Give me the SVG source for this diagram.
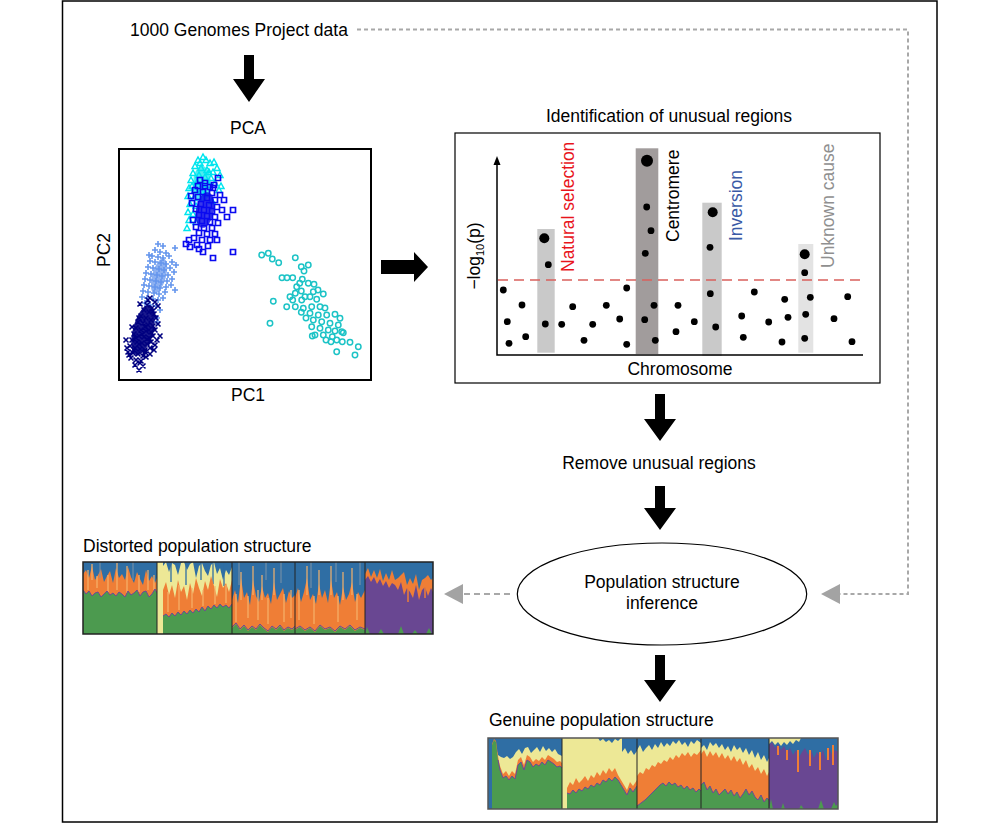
<svg xmlns="http://www.w3.org/2000/svg" width="1000" height="824" viewBox="0 0 1000 824">
<defs>
<style>
text{font-family:"Liberation Sans",Arial,sans-serif;font-size:17.5px;fill:#000}
.frame{fill:none;stroke:#000}
.dash{fill:none;stroke:#a8a8a8;stroke-width:2}
.gh{fill:#a3a3a3}
.blk{fill:#000}
.dot{fill:#000}
.B{fill:#2f6ea4}.O{fill:#ef7e36}.Y{fill:#ede896}.G{fill:#4c9a4f}.P{fill:#694792}
.pe{stroke:#f5b36c;stroke-width:1.2}
.gb{stroke:#7e93a6;stroke-width:1}
.bl{stroke:#2f6ea4;stroke-width:1.3}
.pl{fill:none;stroke:#6d4a94;stroke-width:1}
</style>
<clipPath id="cd"><rect x="83" y="562" width="350" height="72"/></clipPath>
<clipPath id="cg"><rect x="488" y="738" width="350" height="71"/></clipPath>
</defs>
<rect x="0" y="0" width="1000" height="824" fill="#fff"/>
<rect x="62.5" y="1" width="874.5" height="821" fill="none" stroke="#000" stroke-width="1.5"/>

<g id="connectors">
<polyline class="dash" stroke-dasharray="4 3" points="357,29.5 908,29.5 908,594 840,594"/>
<polygon class="gh" points="821,594 840,584 840,604"/>
<line class="dash" stroke-dasharray="6 4" x1="510" y1="594" x2="463" y2="594"/>
<polygon class="gh" points="444,594 463,584 463,604"/>
<polygon class="blk" points="244,55 254,55 254,79 265,79 249,102 233,79 244,79"/>
<polygon class="blk" points="381,260 414,260 414,252 428,267 414,282 414,274 381,274"/>
<polygon class="blk" points="655,394 665,394 665,419 676,419 660,441 644,419 655,419"/>
<polygon class="blk" points="655,486 665,486 665,508 676,508 660,530 644,508 655,508"/>
<polygon class="blk" points="655,655 665,655 665,680 676,680 660,702 644,680 655,680"/>
</g>

<g id="source">
<text x="130" y="36">1000 Genomes Project data</text>
</g>

<g id="pca">
<text x="248" y="134" text-anchor="middle">PCA</text>
<rect class="frame" x="119" y="149" width="252" height="231" stroke-width="2"/>
<text x="248" y="401" text-anchor="middle">PC1</text>
<text transform="translate(110,250) rotate(-90)" text-anchor="middle">PC2</text>
<ellipse cx="159" cy="276" rx="7" ry="18" transform="rotate(15 159 276)" fill="#6f9cee" opacity="0.8"/>
<path fill="none" stroke="#6495ed" stroke-width="1.6" d="M158,244m-3,0h6m-3-3v6M163,246m-3,0h6m-3-3v6M175,248m-3,0h6m-3-3v6M155,250m-3,0h6m-3-3v6M160,252m-3,0h6m-3-3v6M166,253m-3,0h6m-3-3v6M152,256m-3,0h6m-3-3v6M158,257m-3,0h6m-3-3v6M163,258m-3,0h6m-3-3v6M169,256m-3,0h6m-3-3v6M150,261m-3,0h6m-3-3v6M155,262m-3,0h6m-3-3v6M161,263m-3,0h6m-3-3v6M166,264m-3,0h6m-3-3v6M172,262m-3,0h6m-3-3v6M148,267m-3,0h6m-3-3v6M153,268m-3,0h6m-3-3v6M159,269m-3,0h6m-3-3v6M164,270m-3,0h6m-3-3v6M170,268m-3,0h6m-3-3v6M146,273m-3,0h6m-3-3v6M151,274m-3,0h6m-3-3v6M157,275m-3,0h6m-3-3v6M162,276m-3,0h6m-3-3v6M168,275m-3,0h6m-3-3v6M174,272m-3,0h6m-3-3v6M145,279m-3,0h6m-3-3v6M150,280m-3,0h6m-3-3v6M156,281m-3,0h6m-3-3v6M161,282m-3,0h6m-3-3v6M167,281m-3,0h6m-3-3v6M172,279m-3,0h6m-3-3v6M144,285m-3,0h6m-3-3v6M149,286m-3,0h6m-3-3v6M155,287m-3,0h6m-3-3v6M160,288m-3,0h6m-3-3v6M166,287m-3,0h6m-3-3v6M143,291m-3,0h6m-3-3v6M148,292m-3,0h6m-3-3v6M154,293m-3,0h6m-3-3v6M159,294m-3,0h6m-3-3v6M165,292m-3,0h6m-3-3v6M142,297m-3,0h6m-3-3v6M147,298m-3,0h6m-3-3v6M153,299m-3,0h6m-3-3v6M158,300m-3,0h6m-3-3v6M150,305m-3,0h6m-3-3v6M156,306m-3,0h6m-3-3v6M145,303m-3,0h6m-3-3v6M152,312m-3,0h6m-3-3v6M157,318m-3,0h6m-3-3v6M160,310m-3,0h6m-3-3v6M176,265m-3,0h6m-3-3v6M175,290m-3,0h6m-3-3v6M149,255m-3,0h6m-3-3v6M171,285m-3,0h6m-3-3v6M163,298m-3,0h6m-3-3v6M157,322m-3,0h6m-3-3v6"/>
<ellipse cx="143" cy="330" rx="10" ry="26" transform="rotate(15 143 330)" fill="#000080" opacity="0.9"/>
<path fill="none" stroke="#000080" stroke-width="1.6" d="M150,298m-2.5-2.5l5,5m0-5l-5,5M155,302m-2.5-2.5l5,5m0-5l-5,5M147,305m-2.5-2.5l5,5m0-5l-5,5M152,308m-2.5-2.5l5,5m0-5l-5,5M158,306m-2.5-2.5l5,5m0-5l-5,5M144,310m-2.5-2.5l5,5m0-5l-5,5M149,312m-2.5-2.5l5,5m0-5l-5,5M154,314m-2.5-2.5l5,5m0-5l-5,5M141,316m-2.5-2.5l5,5m0-5l-5,5M146,318m-2.5-2.5l5,5m0-5l-5,5M151,320m-2.5-2.5l5,5m0-5l-5,5M156,318m-2.5-2.5l5,5m0-5l-5,5M138,322m-2.5-2.5l5,5m0-5l-5,5M143,323m-2.5-2.5l5,5m0-5l-5,5M148,325m-2.5-2.5l5,5m0-5l-5,5M153,326m-2.5-2.5l5,5m0-5l-5,5M136,328m-2.5-2.5l5,5m0-5l-5,5M141,330m-2.5-2.5l5,5m0-5l-5,5M146,331m-2.5-2.5l5,5m0-5l-5,5M151,332m-2.5-2.5l5,5m0-5l-5,5M155,330m-2.5-2.5l5,5m0-5l-5,5M134,334m-2.5-2.5l5,5m0-5l-5,5M139,336m-2.5-2.5l5,5m0-5l-5,5M144,337m-2.5-2.5l5,5m0-5l-5,5M149,338m-2.5-2.5l5,5m0-5l-5,5M153,336m-2.5-2.5l5,5m0-5l-5,5M132,340m-2.5-2.5l5,5m0-5l-5,5M137,342m-2.5-2.5l5,5m0-5l-5,5M142,343m-2.5-2.5l5,5m0-5l-5,5M147,344m-2.5-2.5l5,5m0-5l-5,5M151,342m-2.5-2.5l5,5m0-5l-5,5M130,346m-2.5-2.5l5,5m0-5l-5,5M135,348m-2.5-2.5l5,5m0-5l-5,5M140,349m-2.5-2.5l5,5m0-5l-5,5M145,350m-2.5-2.5l5,5m0-5l-5,5M150,348m-2.5-2.5l5,5m0-5l-5,5M155,345m-2.5-2.5l5,5m0-5l-5,5M128,352m-2.5-2.5l5,5m0-5l-5,5M133,353m-2.5-2.5l5,5m0-5l-5,5M138,354m-2.5-2.5l5,5m0-5l-5,5M143,356m-2.5-2.5l5,5m0-5l-5,5M131,358m-2.5-2.5l5,5m0-5l-5,5M136,360m-2.5-2.5l5,5m0-5l-5,5M141,361m-2.5-2.5l5,5m0-5l-5,5M135,365m-2.5-2.5l5,5m0-5l-5,5M140,363m-2.5-2.5l5,5m0-5l-5,5M139,370m-2.5-2.5l5,5m0-5l-5,5M145,352m-2.5-2.5l5,5m0-5l-5,5M157,340m-2.5-2.5l5,5m0-5l-5,5M160,336m-2.5-2.5l5,5m0-5l-5,5M127,348m-2.5-2.5l5,5m0-5l-5,5M146,357m-2.5-2.5l5,5m0-5l-5,5M132,327m-2.5-2.5l5,5m0-5l-5,5M139,318m-2.5-2.5l5,5m0-5l-5,5M150,354m-2.5-2.5l5,5m0-5l-5,5M154,350m-2.5-2.5l5,5m0-5l-5,5M126,340m-2.5-2.5l5,5m0-5l-5,5M143,366m-2.5-2.5l5,5m0-5l-5,5M140,304m-2.5-2.5l5,5m0-5l-5,5M158,324m-2.5-2.5l5,5m0-5l-5,5M148,300m-2.5-2.5l5,5m0-5l-5,5M153,311m-2.5-2.5l5,5m0-5l-5,5M145,327m-2.5-2.5l5,5m0-5l-5,5M139,344m-2.5-2.5l5,5m0-5l-5,5M134,350m-2.5-2.5l5,5m0-5l-5,5M147,339m-2.5-2.5l5,5m0-5l-5,5M142,334m-2.5-2.5l5,5m0-5l-5,5M136,338m-2.5-2.5l5,5m0-5l-5,5M129,355m-2.5-2.5l5,5m0-5l-5,5M149,330m-2.5-2.5l5,5m0-5l-5,5"/>
<ellipse cx="202" cy="184" rx="9" ry="18" fill="#22e6ee" opacity="0.8"/>
<path fill="none" stroke="#00e5ee" stroke-width="1.5" d="M198,160m-3,2.5l3-5.5l3,5.5zM203,157m-3,2.5l3-5.5l3,5.5zM210,163m-3,2.5l3-5.5l3,5.5zM217,168m-3,2.5l3-5.5l3,5.5zM195,166m-3,2.5l3-5.5l3,5.5zM201,168m-3,2.5l3-5.5l3,5.5zM207,170m-3,2.5l3-5.5l3,5.5zM213,172m-3,2.5l3-5.5l3,5.5zM193,173m-3,2.5l3-5.5l3,5.5zM199,175m-3,2.5l3-5.5l3,5.5zM205,177m-3,2.5l3-5.5l3,5.5zM211,178m-3,2.5l3-5.5l3,5.5zM191,180m-3,2.5l3-5.5l3,5.5zM197,182m-3,2.5l3-5.5l3,5.5zM203,184m-3,2.5l3-5.5l3,5.5zM209,185m-3,2.5l3-5.5l3,5.5zM215,183m-3,2.5l3-5.5l3,5.5zM189,188m-3,2.5l3-5.5l3,5.5zM195,190m-3,2.5l3-5.5l3,5.5zM201,191m-3,2.5l3-5.5l3,5.5zM188,196m-3,2.5l3-5.5l3,5.5zM194,198m-3,2.5l3-5.5l3,5.5zM190,204m-3,2.5l3-5.5l3,5.5zM196,206m-3,2.5l3-5.5l3,5.5zM188,212m-3,2.5l3-5.5l3,5.5zM193,214m-3,2.5l3-5.5l3,5.5zM189,220m-3,2.5l3-5.5l3,5.5zM220,175m-3,2.5l3-5.5l3,5.5zM214,162m-3,2.5l3-5.5l3,5.5zM206,160m-3,2.5l3-5.5l3,5.5zM200,163m-3,2.5l3-5.5l3,5.5zM192,186m-3,2.5l3-5.5l3,5.5zM205,194m-3,2.5l3-5.5l3,5.5zM212,201m-3,2.5l3-5.5l3,5.5zM219,190m-3,2.5l3-5.5l3,5.5zM187,228m-3,2.5l3-5.5l3,5.5zM196,222m-3,2.5l3-5.5l3,5.5zM221,186m-3,2.5l3-5.5l3,5.5zM209,172m-3,2.5l3-5.5l3,5.5z"/>
<ellipse cx="205" cy="210" rx="9" ry="18" transform="rotate(10 205 210)" fill="#1414e8" opacity="0.85"/>
<path fill="none" stroke="#0a0af0" stroke-width="1.7" d="M200,180m-2.5-2.5h5v5h-5zM210,187m-2.5-2.5h5v5h-5zM218,178m-2.5-2.5h5v5h-5zM205,183m-2.5-2.5h5v5h-5zM195,190m-2.5-2.5h5v5h-5zM203,192m-2.5-2.5h5v5h-5zM212,193m-2.5-2.5h5v5h-5zM198,197m-2.5-2.5h5v5h-5zM207,198m-2.5-2.5h5v5h-5zM215,200m-2.5-2.5h5v5h-5zM192,203m-2.5-2.5h5v5h-5zM201,204m-2.5-2.5h5v5h-5zM209,205m-2.5-2.5h5v5h-5zM217,207m-2.5-2.5h5v5h-5zM196,209m-2.5-2.5h5v5h-5zM204,210m-2.5-2.5h5v5h-5zM212,211m-2.5-2.5h5v5h-5zM222,210m-2.5-2.5h5v5h-5zM233,210m-2.5-2.5h5v5h-5zM227,217m-2.5-2.5h5v5h-5zM199,215m-2.5-2.5h5v5h-5zM207,216m-2.5-2.5h5v5h-5zM215,217m-2.5-2.5h5v5h-5zM193,220m-2.5-2.5h5v5h-5zM202,221m-2.5-2.5h5v5h-5zM210,222m-2.5-2.5h5v5h-5zM218,223m-2.5-2.5h5v5h-5zM196,227m-2.5-2.5h5v5h-5zM204,228m-2.5-2.5h5v5h-5zM212,228m-2.5-2.5h5v5h-5zM199,233m-2.5-2.5h5v5h-5zM207,234m-2.5-2.5h5v5h-5zM215,234m-2.5-2.5h5v5h-5zM194,238m-2.5-2.5h5v5h-5zM202,240m-2.5-2.5h5v5h-5zM210,240m-2.5-2.5h5v5h-5zM189,240m-2.5-2.5h5v5h-5zM197,245m-2.5-2.5h5v5h-5zM190,247m-2.5-2.5h5v5h-5zM199,249m-2.5-2.5h5v5h-5zM213,258m-2.5-2.5h5v5h-5zM233,252m-2.5-2.5h5v5h-5zM205,186m-2.5-2.5h5v5h-5zM214,185m-2.5-2.5h5v5h-5zM220,195m-2.5-2.5h5v5h-5zM191,196m-2.5-2.5h5v5h-5zM208,246m-2.5-2.5h5v5h-5zM203,252m-2.5-2.5h5v5h-5zM186,244m-2.5-2.5h5v5h-5zM224,200m-2.5-2.5h5v5h-5zM217,240m-2.5-2.5h5v5h-5zM213,188m-2.5-2.5h5v5h-5zM198,186m-2.5-2.5h5v5h-5z"/>
<g fill="none" stroke="#1cc3c6" stroke-width="1.5">
<circle cx="261.7" cy="255" r="2.7"/><circle cx="268.3" cy="253.3" r="2.7"/><circle cx="272.3" cy="259" r="2.7"/><circle cx="278.7" cy="262.7" r="2.7"/><circle cx="295.3" cy="257.7" r="2.7"/><circle cx="301.3" cy="266.7" r="2.7"/><circle cx="308.3" cy="265" r="2.7"/><circle cx="304" cy="271" r="2.7"/><circle cx="282" cy="277.7" r="2.7"/><circle cx="287" cy="277.7" r="2.7"/><circle cx="292.7" cy="277.7" r="2.7"/><circle cx="302.3" cy="279.3" r="2.7"/><circle cx="299.7" cy="283.3" r="2.7"/><circle cx="308.3" cy="283.3" r="2.7"/><circle cx="314" cy="284.3" r="2.7"/><circle cx="296.7" cy="286.7" r="2.7"/><circle cx="295.3" cy="293.3" r="2.7"/><circle cx="301.3" cy="291" r="2.7"/><circle cx="313.3" cy="291.7" r="2.7"/><circle cx="323.3" cy="294" r="2.7"/><circle cx="292.7" cy="300" r="2.7"/><circle cx="301.7" cy="300" r="2.7"/><circle cx="310" cy="296.7" r="2.7"/><circle cx="316.7" cy="299.3" r="2.7"/><circle cx="273.3" cy="301.3" r="2.7"/><circle cx="295.3" cy="306.7" r="2.7"/><circle cx="303.3" cy="308.3" r="2.7"/><circle cx="311.7" cy="306.7" r="2.7"/><circle cx="320" cy="306.7" r="2.7"/><circle cx="301.3" cy="312.3" r="2.7"/><circle cx="310" cy="313.3" r="2.7"/><circle cx="318.3" cy="315" r="2.7"/><circle cx="326.7" cy="315" r="2.7"/><circle cx="335" cy="314.3" r="2.7"/><circle cx="340" cy="318.3" r="2.7"/><circle cx="313.3" cy="320" r="2.7"/><circle cx="321.7" cy="321.7" r="2.7"/><circle cx="330" cy="323.3" r="2.7"/><circle cx="338.3" cy="325" r="2.7"/><circle cx="270" cy="323.3" r="2.7"/><circle cx="311.7" cy="326.7" r="2.7"/><circle cx="320" cy="328.3" r="2.7"/><circle cx="328.3" cy="330" r="2.7"/><circle cx="335" cy="331" r="2.7"/><circle cx="341.7" cy="331.7" r="2.7"/><circle cx="315" cy="335" r="2.7"/><circle cx="323.3" cy="335" r="2.7"/><circle cx="332.3" cy="336.7" r="2.7"/><circle cx="312.3" cy="336" r="2.7"/><circle cx="331" cy="341.7" r="2.7"/><circle cx="336.7" cy="340" r="2.7"/><circle cx="342.3" cy="341.7" r="2.7"/><circle cx="350" cy="342.3" r="2.7"/><circle cx="358.3" cy="346.7" r="2.7"/><circle cx="336.7" cy="351.7" r="2.7"/><circle cx="355" cy="355" r="2.7"/><circle cx="343.3" cy="332.7" r="2.7"/><circle cx="305" cy="296.7" r="2.7"/><circle cx="290" cy="296.7" r="2.7"/><circle cx="286.7" cy="306.7" r="2.7"/><circle cx="306" cy="318" r="2.7"/><circle cx="325" cy="308" r="2.7"/><circle cx="318" cy="290" r="2.7"/><circle cx="326" cy="340" r="2.7"/>
</g>
</g>

<g id="unusual-regions">
<text x="669" y="122" text-anchor="middle">Identification of unusual regions</text>
<rect class="frame" x="455" y="133" width="425" height="250" stroke-width="1.2"/>
<rect x="537.3" y="229" width="17.4" height="123.7" fill="#c9c9c9"/>
<rect x="635.7" y="148.3" width="22.6" height="205.7" fill="#a19c9c"/>
<rect x="702.3" y="202.7" width="19.4" height="153.3" fill="#c9c9c9"/>
<rect x="798.3" y="244" width="15" height="108.7" fill="#e3e3e3"/>
<line x1="498" y1="280" x2="862" y2="280" stroke="#d9605c" stroke-width="1.6" stroke-dasharray="10 6"/>
<polyline points="497,164 497,355 863,355" fill="none" stroke="#000" stroke-width="1.5"/>
<polygon points="497,156 493.5,165 500.5,165" fill="#000"/>
<g class="dot">
<circle cx="503.3" cy="290" r="3.4"/><circle cx="507.3" cy="321.7" r="3.4"/><circle cx="509" cy="343.3" r="3.4"/><circle cx="522" cy="305" r="3.4"/><circle cx="525.7" cy="336.7" r="3.4"/><circle cx="544.3" cy="238.3" r="5"/><circle cx="548.3" cy="264.7" r="3.4"/><circle cx="545.3" cy="324" r="3.4"/><circle cx="561.7" cy="324.3" r="3.4"/><circle cx="572.7" cy="306.7" r="3.4"/><circle cx="584" cy="340.3" r="3.4"/><circle cx="592.7" cy="324.3" r="3.4"/><circle cx="606.3" cy="305.3" r="3.4"/><circle cx="619.7" cy="319" r="3.4"/><circle cx="626.7" cy="288" r="3.4"/><circle cx="626.7" cy="344.3" r="3.4"/><circle cx="647" cy="160.7" r="6"/><circle cx="646.7" cy="207" r="3.4"/><circle cx="651" cy="230.7" r="3.4"/><circle cx="645.3" cy="253.3" r="3.4"/><circle cx="654" cy="305.3" r="3.4"/><circle cx="644.7" cy="319.7" r="3.4"/><circle cx="655.3" cy="340.3" r="3.4"/><circle cx="678" cy="305.3" r="3.4"/><circle cx="676" cy="331.7" r="3.4"/><circle cx="694.3" cy="321.7" r="3.4"/><circle cx="712.7" cy="212.3" r="5"/><circle cx="710" cy="247.3" r="3.4"/><circle cx="710.3" cy="293.7" r="3.4"/><circle cx="715.7" cy="327" r="3.4"/><circle cx="741.7" cy="316" r="3.4"/><circle cx="743.3" cy="337.3" r="3.4"/><circle cx="754.3" cy="292" r="3.4"/><circle cx="768.7" cy="322" r="3.4"/><circle cx="782" cy="342" r="3.4"/><circle cx="784.7" cy="299.3" r="3.4"/><circle cx="788" cy="317.3" r="3.4"/><circle cx="804.7" cy="254.3" r="5"/><circle cx="804.7" cy="272.7" r="3.4"/><circle cx="810.3" cy="297.3" r="3.4"/><circle cx="805.7" cy="314.3" r="3.4"/><circle cx="804.7" cy="338.3" r="3.4"/><circle cx="834" cy="318.7" r="3.4"/><circle cx="847.7" cy="296.7" r="3.4"/><circle cx="852" cy="341.7" r="3.4"/>
</g>
<text transform="translate(574,272) rotate(-90)" style="fill:#e8141b">Natural selection</text>
<text transform="translate(679,242) rotate(-90)">Centromere</text>
<text transform="translate(742,241) rotate(-90)" style="fill:#3a5aa6">Inversion</text>
<text transform="translate(834,268) rotate(-90)" style="fill:#8f8f8f">Unknown cause</text>
<text transform="translate(480,256) rotate(-90)" text-anchor="middle">−log<tspan font-size="11" dy="4">10</tspan><tspan dy="-4">(p)</tspan></text>
<text x="680" y="375" text-anchor="middle">Chromosome</text>
</g>

<g id="remove">
<text x="659" y="469" text-anchor="middle">Remove unusual regions</text>
</g>

<g id="inference">
<ellipse cx="662" cy="594" rx="144.7" ry="51" fill="#fff" stroke="#000" stroke-width="1.2"/>
<text x="662" y="588" text-anchor="middle">Population structure</text>
<text x="662" y="609" text-anchor="middle">inference</text>
</g>

<g id="distorted">
<text x="83" y="552">Distorted population structure</text>
<g clip-path="url(#cd)">
<rect class="B" x="83" y="562" width="74" height="72"/>
<polygon class="O" points="83,634 83,574 86,570 89,578 92,566 95,580 98,575 101,569 104,582 107,576 110,571 113,583 116,568 119,578 122,574 125,580 128,567 131,577 134,583 137,572 140,579 143,585 146,570 149,581 152,576 155,583 157,578 157,634"/>
<g class="pe"><line x1="88" y1="570" x2="88" y2="590"/><line x1="92" y1="564" x2="92" y2="580"/><line x1="97" y1="576" x2="97" y2="588"/><line x1="108" y1="575" x2="108" y2="592"/><line x1="117" y1="563" x2="117" y2="590"/><line x1="127" y1="566" x2="127" y2="593"/><line x1="139" y1="575" x2="139" y2="592"/><line x1="148" y1="570" x2="148" y2="590"/><line x1="154" y1="575" x2="154" y2="590"/></g>
<g class="gb"><line x1="100" y1="562" x2="100" y2="578"/><line x1="133" y1="562" x2="133" y2="580"/></g>
<polygon class="G" points="83,634 83,590 86,594 89,591 92,596 95,593 98,592 101,597 104,594 107,591 110,595 113,593 116,596 119,592 122,594 125,597 128,591 131,595 134,593 137,590 140,596 143,592 146,591 149,597 152,594 155,589 157,593 157,634"/>
<polyline class="pl" points="83,590 86,594 89,591 92,596 95,593 98,592 101,597 104,594 107,591 110,595 113,593 116,596 119,592 122,594 125,597 128,591 131,595 134,593 137,590 140,596 143,592 146,591 149,597 152,594 155,589 157,593"/>
<rect class="Y" x="157" y="562" width="6" height="72"/>
<rect class="Y" x="163" y="562" width="69" height="72"/>
<polygon class="B" points="163,562 163,566 166,562 169,572 172,563 175,565 178,575 181,563 184,562 187,570 190,564 193,562 196,578 199,566 202,563 205,571 208,576 211,565 214,562 217,574 220,568 223,580 226,570 229,575 232,567 232,562"/>
<g class="bl"><line x1="171" y1="562" x2="171" y2="582"/><line x1="186" y1="562" x2="186" y2="585"/><line x1="201" y1="562" x2="201" y2="580"/><line x1="213" y1="562" x2="213" y2="584"/><line x1="224" y1="562" x2="224" y2="586"/></g>
<polygon class="O" points="163,634 163,590 166,582 169,595 172,585 175,598 178,580 181,592 184,586 187,600 190,583 193,594 196,578 199,588 202,596 205,581 208,590 211,576 214,586 217,597 220,579 223,588 226,583 229,592 232,580 232,634"/>
<g class="pe"><line x1="168" y1="592" x2="168" y2="612"/><line x1="179" y1="585" x2="179" y2="610"/><line x1="192" y1="588" x2="192" y2="608"/><line x1="203" y1="590" x2="203" y2="606"/><line x1="215" y1="586" x2="215" y2="604"/><line x1="226" y1="585" x2="226" y2="603"/></g>
<polygon class="G" points="163,634 163,616 166,614 169,617 172,613 175,616 178,612 181,615 184,611 187,614 190,610 193,613 196,609 199,612 202,607 205,611 208,606 211,609 214,605 217,608 220,604 223,607 226,605 229,608 232,604 232,634"/>
<polyline class="pl" points="163,616 166,614 169,617 172,613 175,616 178,612 181,615 184,611 187,614 190,610 193,613 196,609 199,612 202,607 205,611 208,606 211,609 214,605 217,608 220,604 223,607 226,605 229,608 232,604"/>
<rect class="B" x="232" y="562" width="63" height="72"/>
<polygon class="O" points="232,634 232,600 235,590 238,603 241,578 244,598 247,592 250,605 253,580 256,596 259,602 262,586 265,598 268,593 271,604 274,582 277,600 280,594 283,588 286,603 289,591 292,598 295,595 295,634"/>
<g class="pe"><line x1="236" y1="594" x2="236" y2="622"/><line x1="241" y1="572" x2="241" y2="600"/><line x1="248" y1="596" x2="248" y2="618"/><line x1="253" y1="566" x2="253" y2="595"/><line x1="258" y1="590" x2="258" y2="620"/><line x1="262" y1="575" x2="262" y2="600"/><line x1="268" y1="598" x2="268" y2="624"/><line x1="274" y1="568" x2="274" y2="595"/><line x1="284" y1="594" x2="284" y2="622"/><line x1="291" y1="590" x2="291" y2="618"/></g>
<g class="gb"><line x1="239" y1="562" x2="239" y2="585"/><line x1="266" y1="562" x2="266" y2="580"/><line x1="281" y1="562" x2="281" y2="583"/></g>
<polygon class="G" points="232,634 232,628 236,624 240,630 244,626 248,631 252,627 256,630 260,625 264,629 268,632 272,627 276,630 280,626 284,631 288,628 292,630 295,627 295,634"/>
<polyline class="pl" points="232,627 236,623 240,629 244,625 248,630 252,626 256,629 260,624 264,628 268,631 272,626 276,629 280,625 284,630 288,627 292,629 295,626"/>
<rect class="B" x="295" y="562" width="70" height="72"/>
<polygon class="O" points="295,634 295,598 298,588 301,602 304,592 307,578 310,600 313,594 316,604 319,584 322,598 325,590 328,603 331,580 334,598 337,592 340,605 343,587 346,600 349,594 352,582 355,602 358,592 361,598 365,590 365,634"/>
<g class="pe"><line x1="299" y1="590" x2="299" y2="620"/><line x1="307" y1="566" x2="307" y2="595"/><line x1="314" y1="596" x2="314" y2="624"/><line x1="319" y1="570" x2="319" y2="595"/><line x1="331" y1="566" x2="331" y2="595"/><line x1="338" y1="596" x2="338" y2="622"/><line x1="343" y1="572" x2="343" y2="600"/><line x1="352" y1="568" x2="352" y2="595"/><line x1="357" y1="594" x2="357" y2="620"/></g>
<g class="gb"><line x1="311" y1="562" x2="311" y2="588"/><line x1="336" y1="562" x2="336" y2="582"/><line x1="360" y1="562" x2="360" y2="585"/></g>
<polygon class="G" points="295,634 295,630 300,627 305,631 310,628 315,632 320,626 325,630 330,628 335,632 340,627 345,630 350,626 355,631 360,628 365,630 365,634"/>
<polyline class="pl" points="295,629 300,626 305,630 310,627 315,631 320,625 325,629 330,627 335,631 340,626 345,629 350,625 355,630 360,627 365,629"/>
<rect class="B" x="365" y="562" width="68" height="72"/>
<polygon class="O" points="365,634 365,574 368,568 371,577 374,570 377,578 380,569 383,581 386,573 389,580 392,570 395,580 398,578 401,575 404,572 407,585 410,578 413,584 416,574 419,590 422,580 425,578 428,575 431,580 433,578 433,634"/>
<polygon class="P" points="365,634 365,580 368,576 371,582 374,577 377,584 380,579 383,586 386,581 389,588 392,583 395,585 398,590 401,582 404,595 407,588 410,592 413,598 416,585 419,600 422,590 425,587 428,596 431,588 433,592 433,634"/>
<g stroke="#ef7e36" stroke-width="1.5"><line x1="408" y1="585" x2="408" y2="602"/><line x1="425" y1="587" x2="425" y2="598"/></g>
<polygon class="G" points="365,634 367,627 370,634 378,634 381,629 384,634 398,634 401,626 404,634 412,634 415,630 418,634 426,634 429,628 432,634"/>
</g>
<g stroke="#222" stroke-width="1"><line x1="157" y1="562" x2="157" y2="634"/><line x1="232" y1="562" x2="232" y2="634"/><line x1="295" y1="562" x2="295" y2="634"/><line x1="365" y1="562" x2="365" y2="634"/></g>
<rect x="83" y="562" width="350" height="72" fill="none" stroke="#222" stroke-width="1.5"/>
</g>

<g id="genuine">
<text x="489" y="726">Genuine population structure</text>
<g clip-path="url(#cg)">
<rect class="B" x="488" y="738" width="74" height="71"/>
<polygon class="Y" points="492,809 492,745 495,745 498,755 501,757 504,758 507,756 510,759 513,757 516,752 519,749 522,754 525,748 528,747 531,753 534,750 537,747 540,752 543,746 546,751 549,748 552,752 555,749 558,754 562,756 562,809"/>
<polygon class="O" points="492,809 492,744 494,739 496,741 498,756 500,766 503,774 506,771 509,776 512,771 515,774 518,760 521,757 524,765 527,755 530,757 533,762 536,759 539,761 542,757 545,760 548,755 551,757 554,759 557,762 560,761 562,763 562,809"/>
<polygon class="G" points="492,809 492,745 494,740 496,742 498,760 500,770 503,778 506,776 509,780 512,776 515,779 518,765 521,762 524,770 527,760 530,762 533,767 536,764 539,766 542,762 545,765 548,760 551,762 554,764 557,767 560,766 562,768 562,809"/>
<polyline class="pl" points="498,760 500,770 503,778 506,776 509,780 512,776 515,779 518,765 521,762 524,770 527,760 530,762 533,767 536,764 539,766 542,762 545,765 548,760 551,762 554,764 557,767 560,766 562,768"/>
<rect class="Y" x="562" y="738" width="75" height="71"/>
<polygon class="B" points="598,738 600,741 603,739 606,742 609,740 612,743 615,739 618,741 621,738"/>
<polygon class="B" points="622,738 622,752 625,748 628,754 631,750 634,755 637,751 637,738"/>
<polygon class="O" points="567,809 567,788 570,782 573,785 576,778 579,783 582,780 585,776 588,781 591,775 594,778 597,772 600,776 603,770 606,774 609,768 612,772 615,768 618,775 621,780 624,785 627,790 630,782 633,786 637,780 637,809"/>
<polygon class="G" points="567,809 567,793 570,794 573,790 576,793 579,789 582,791 585,787 588,789 591,785 594,787 597,783 600,785 603,780 606,782 609,778 612,781 615,777 618,780 621,785 624,790 627,795 630,788 633,792 637,786 637,809"/>
<polyline class="pl" points="567,793 570,794 573,790 576,793 579,789 582,791 585,787 588,789 591,785 594,787 597,783 600,785 603,780 606,782 609,778 612,781 615,777 618,780 621,785 624,790 627,795 630,788 633,792 637,786"/>
<rect class="B" x="637" y="738" width="64" height="71"/>
<polygon class="Y" points="637,809 637,750 640,745 643,752 646,748 649,745 652,750 655,744 658,748 661,742 664,747 667,743 670,746 673,741 676,744 679,740 682,745 685,742 688,747 691,741 694,744 697,740 701,743 701,809"/>
<polygon class="O" points="637,809 637,776 640,772 643,774 646,768 649,770 652,765 655,767 658,762 661,764 664,760 667,762 670,757 673,760 676,755 679,758 682,753 685,756 688,752 691,757 694,753 697,755 701,750 701,809"/>
<polygon class="G" points="637,809 637,806 641,803 645,800 648,797 651,794 654,791 657,788 660,785 663,783 666,786 669,782 672,785 675,783 678,787 681,785 684,789 687,786 690,790 693,788 696,792 699,789 701,791 701,809"/>
<polyline class="pl" points="637,806 641,803 645,800 648,797 651,794 654,791 657,788 660,785 663,783 666,786 669,782 672,785 675,783 678,787 681,785 684,789 687,786 690,790 693,788 696,792 699,789 701,791"/>
<rect class="B" x="701" y="738" width="68" height="71"/>
<polygon class="Y" points="701,809 701,748 704,745 707,750 710,742 713,746 716,743 719,748 722,744 725,750 728,746 731,752 734,745 737,750 740,747 743,753 746,748 749,755 752,750 755,758 758,752 761,760 764,755 767,762 769,758 769,809"/>
<polygon class="O" points="701,809 701,754 704,750 707,757 710,751 713,756 716,752 719,758 722,753 725,759 728,755 731,761 734,756 737,762 740,758 743,765 746,760 749,768 752,764 755,771 758,767 761,774 764,769 767,776 769,772 769,809"/>
<polygon class="G" points="701,809 701,785 704,782 707,790 710,786 713,793 716,789 719,795 722,792 725,789 728,794 731,790 734,796 737,792 740,798 743,794 746,789 749,795 752,791 755,797 758,800 761,795 764,802 767,798 769,800 769,809"/>
<polyline class="pl" points="701,785 704,782 707,790 710,786 713,793 716,789 719,795 722,792 725,789 728,794 731,790 734,796 737,792 740,798 743,794 746,789 749,795 752,791 755,797 758,800 761,795 764,802 767,798 769,800"/>
<rect class="B" x="769" y="738" width="69" height="71"/>
<polygon class="Y" points="769,738 769,744 772,741 775,745 778,742 781,746 784,742 787,745 790,741 793,744 796,740 799,742 801,738"/>
<polygon class="P" points="769,809 769,745 772,742 775,748 778,744 781,750 784,746 787,752 790,748 793,755 796,750 799,757 802,752 805,748 808,755 811,750 814,758 817,752 820,756 823,750 826,760 829,748 832,755 835,750 838,752 838,809"/>
<g stroke="#ef7e36" stroke-width="2"><line x1="798" y1="750" x2="798" y2="772"/><line x1="810" y1="750" x2="810" y2="766"/><line x1="820" y1="752" x2="820" y2="770"/><line x1="828" y1="748" x2="828" y2="760"/><line x1="833" y1="745" x2="833" y2="765"/><line x1="787" y1="750" x2="787" y2="760"/><line x1="778" y1="746" x2="778" y2="755"/></g>
<polygon class="G" points="769,809 771,799 773,809 781,809 783,803 785,809 799,809 801,805 804,809 818,809 821,800 824,809 831,809 834,802 836,806 838,803 838,809"/>
</g>
<g stroke="#222" stroke-width="1"><line x1="562" y1="738" x2="562" y2="809"/><line x1="637" y1="738" x2="637" y2="809"/><line x1="701" y1="738" x2="701" y2="809"/><line x1="769" y1="738" x2="769" y2="809"/></g>
<rect x="488" y="738" width="350" height="71" fill="none" stroke="#555" stroke-width="1.5"/>
</g>
</svg>
